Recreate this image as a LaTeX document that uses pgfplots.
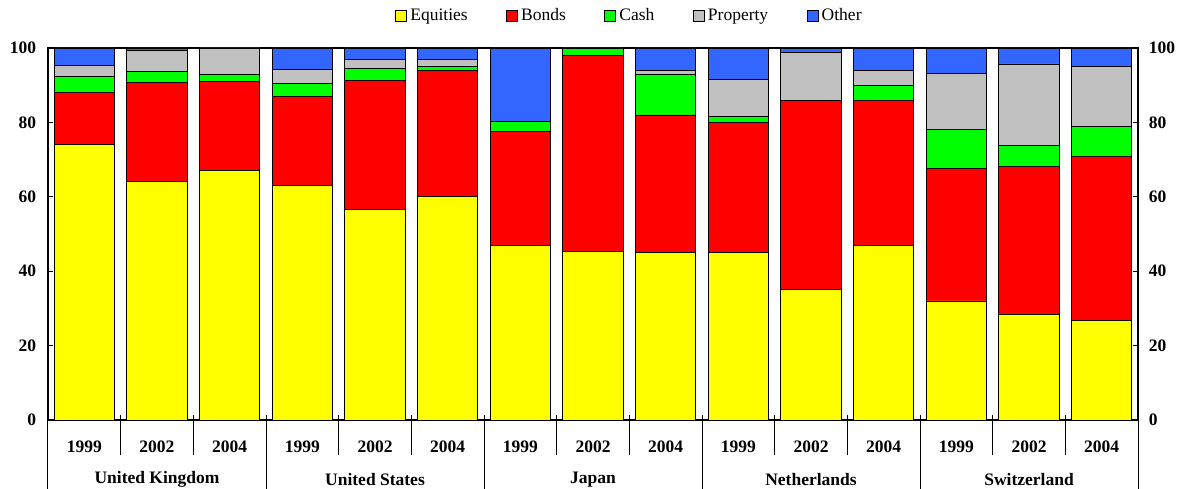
\documentclass[border=0pt]{standalone}
\usepackage{pgfplots}
\usepackage{pgfplotstable}
\pgfplotsset{compat=1.18}
\usepackage{fontspec}
\setmainfont{Liberation Serif}
\definecolor{cEq}{RGB}{255,255,0}
\definecolor{cBo}{RGB}{255,0,0}
\definecolor{cCa}{RGB}{0,255,0}
\definecolor{cPr}{RGB}{192,192,192}
\definecolor{cOt}{RGB}{51,102,255}
\pgfplotstableread{
idx Eq Bo Ca Pr Ot
0 74 14 4.4 2.9 4.7
1 64 26.7 3 5.6 0.7
2 67 24 2 7 0
3 63 24 3.5 3.7 5.8
4 56.5 34.7 3.3 2.5 3
5 60 34 1 2 3
6 47 30.5 2.7 0 19.8
7 45.2 52.9 1.9 0 0
8 45 37 11 1 6
9 45 35 1.5 10 8.5
10 35 51 0 12.8 1.2
11 47 39 4 4 6
12 32 35.5 10.6 15.1 6.8
13 28.3 39.9 5.6 21.9 4.3
14 26.7 44.2 8 16.1 5
}\datatable
\begin{document}
\begin{tikzpicture}[x=1pt,y=1pt]
\useasboundingbox (-28.8,-41.4) rectangle (680.4,252);
\begin{axis}[
 at={(0,0)}, anchor=south west,
 scale only axis, width=654pt, height=223.2pt,
 ybar stacked, bar width=0.83,
 xmin=-0.5, xmax=14.5, ymin=0, ymax=100,
 ytick={0,20,...,100},
 ytick pos=both, yticklabel pos=left,
 tick align=inside, major tick length=3pt,
 tick style={black, line width=0.6pt},
 axis line style={black, line width=0.8pt},
 xtick={0,...,14},
 xticklabels={1999,2002,2004,1999,2002,2004,1999,2002,2004,1999,2002,2004,1999,2002,2004},
 x tick style={draw=none},
 xticklabel style={anchor=center, yshift=-16pt},
 yticklabel style={xshift=-3.6pt},
 tick label style={font=\fontsize{10.5}{12}\selectfont\bfseries},
 /pgf/number format/assume math mode=true,
 clip=false,
 legend style={at={(0.534,1.086)}, anchor=center, draw=none, fill=none,
   legend columns=5, font=\fontsize{10.5}{12}\selectfont,
   /tikz/every even column/.append style={column sep=21pt},
   legend cell align=left, inner sep=0pt},
 legend image code/.code={\draw[#1, draw=black, line width=0.5pt] (0pt,-3.3pt) rectangle (6.6pt,3.3pt);},
 every axis plot/.append style={draw=black, line width=0.5pt},
]
\addplot[fill=cEq] table[x=idx,y=Eq]{\datatable};
\addplot[fill=cBo] table[x=idx,y=Bo]{\datatable};
\addplot[fill=cCa] table[x=idx,y=Ca]{\datatable};
\addplot[fill=cPr] table[x=idx,y=Pr]{\datatable};
\addplot[fill=cOt] table[x=idx,y=Ot]{\datatable};
\legend{Equities,Bonds,Cash,Property,Other}
\pgfplotsinvokeforeach{0.5,1.5,3.5,4.5,6.5,7.5,9.5,10.5,12.5,13.5}{
  \draw[black, line width=0.6pt] ([yshift=3pt]axis cs:#1,0) -- ([yshift=-21pt]axis cs:#1,0);
}
\pgfplotsinvokeforeach{-0.5,2.5,5.5,8.5,11.5,14.5}{
  \draw[black, line width=0.6pt] ([yshift=3pt]axis cs:#1,0) -- ([yshift=-41.4pt]axis cs:#1,0);
}
\node[font=\fontsize{10.5}{12}\selectfont\bfseries] at (axis cs:1,0) [yshift=-35.8pt] {United Kingdom};
\node[font=\fontsize{10.5}{12}\selectfont\bfseries] at (axis cs:4,0) [yshift=-35.8pt] {United States};
\node[font=\fontsize{10.5}{12}\selectfont\bfseries] at (axis cs:7,0) [yshift=-35.8pt] {Japan};
\node[font=\fontsize{10.5}{12}\selectfont\bfseries] at (axis cs:10,0) [yshift=-35.8pt] {Netherlands};
\node[font=\fontsize{10.5}{12}\selectfont\bfseries] at (axis cs:13,0) [yshift=-35.8pt] {Switzerland};
\end{axis}
\begin{axis}[
 at={(0,0)}, anchor=south west,
 scale only axis, width=654pt, height=223.2pt,
 xmin=-0.5, xmax=14.5, ymin=0, ymax=100,
 hide x axis, axis y line*=right,
 y axis line style={draw=none},
 ytick={0,20,...,100}, ytick style={draw=none},
 yticklabel style={xshift=3pt},
 tick label style={font=\fontsize{10.5}{12}\selectfont\bfseries},
 /pgf/number format/assume math mode=true,
]
\addplot[draw=none] coordinates {(0,0)};
\end{axis}
\end{tikzpicture}
\end{document}
